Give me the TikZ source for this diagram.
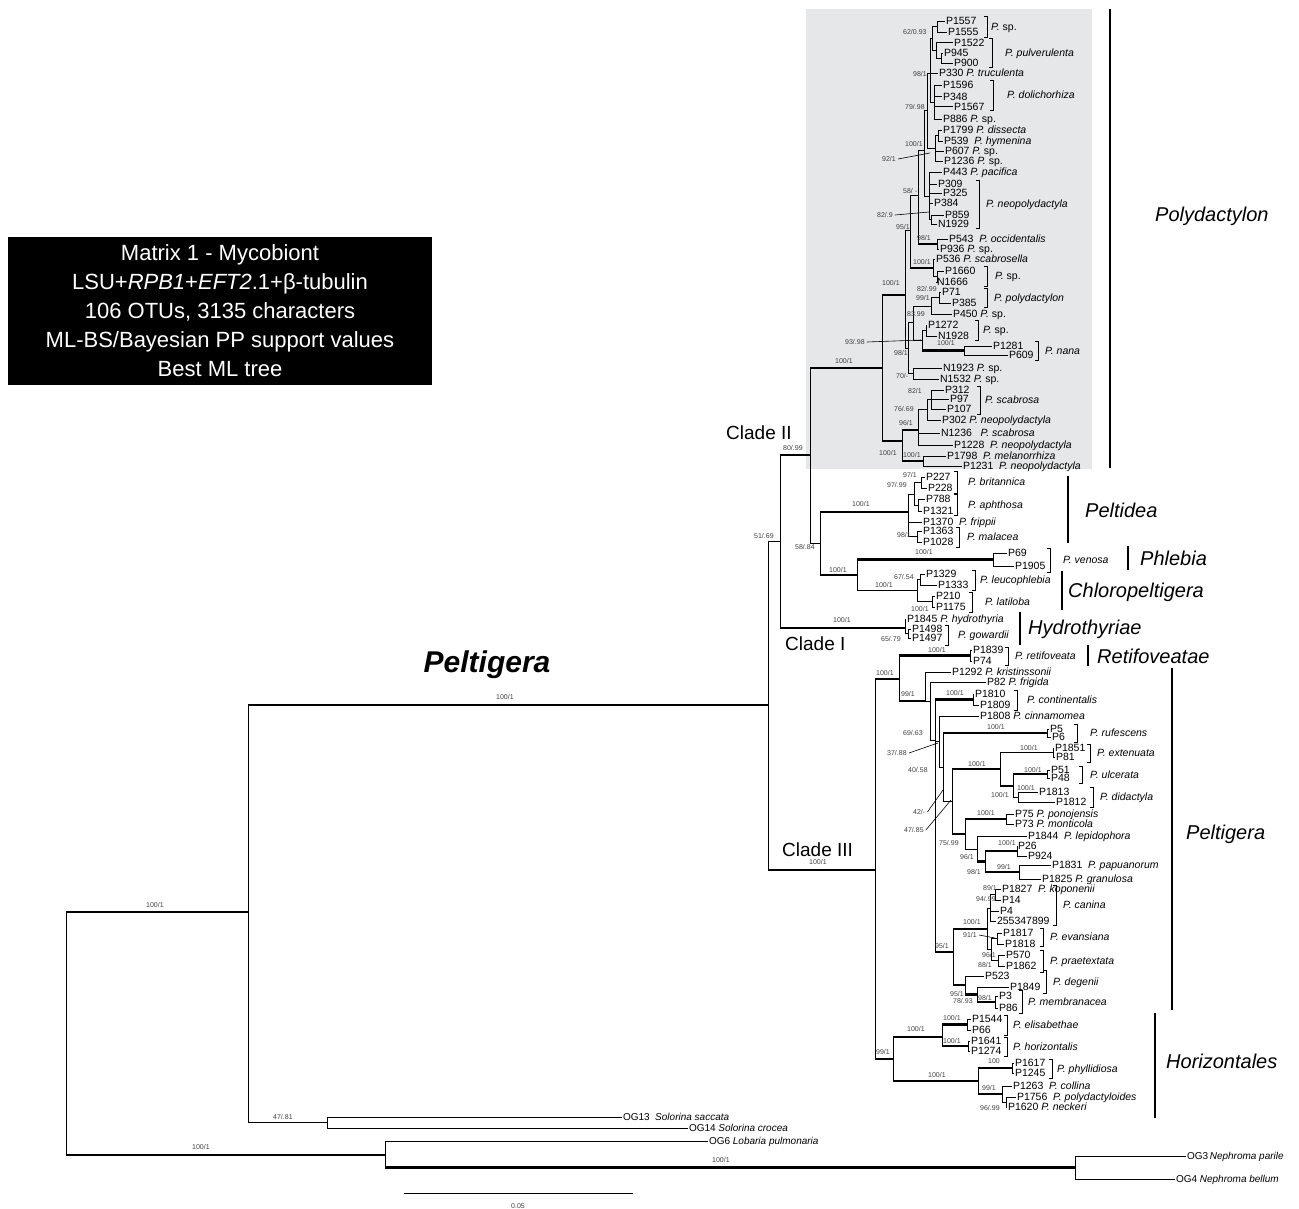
\documentclass[tikz,border=0pt]{standalone}
\usepackage{fontspec}
\setmainfont{Liberation Sans}
\usetikzlibrary{positioning}
\definecolor{polybg}{RGB}{230,231,232}
\newcommand{\taxon}[1]{\textit{#1}}
\tikzset{
  leaf/.style={anchor=west, inner sep=0.8pt, font=\fontsize{10.5}{11}\selectfont, text height=7.5pt, text depth=0pt},
  ogleaf/.style={leaf, font=\fontsize{10}{11}\selectfont, text height=7.2pt},
  supp/.style={anchor=west, inner sep=0pt, text=black!75, font=\fontsize{7}{8}\selectfont},
  branch/.style={line width=0.8pt},
  thickbranch/.style={line width=2.3pt},
  bracket/.style={line width=0.8pt},
  spname/.style={anchor=west, inner sep=0pt, font=\fontsize{10.5}{11}\selectfont\itshape, text height=7.5pt, text depth=0pt},
  cladebar/.style={line width=2.6pt},
  cladename/.style={anchor=west, inner sep=0pt, font=\fontsize{20}{22}\selectfont\itshape, text height=14.3pt, text depth=0pt},
  cladetag/.style={anchor=west, inner sep=0pt, font=\fontsize{19}{21}\selectfont},
  leader/.style={line width=0.6pt},
}

\begin{document}
\begin{tikzpicture}[x=1pt, y=-1pt]
    \useasboundingbox (0,0) rectangle (1299,1208);

    % Polydactylon background
    \fill[polybg] (806,9) rectangle (1092,469);

    % Matrix box
    \node[fill=black, text=white, align=center, minimum width=424pt, minimum height=148pt, inner sep=0pt,
          font=\fontsize{22}{29}\selectfont] (matrix) at (220,311)
          {Matrix 1 - Mycobiont\\ LSU+\textit{RPB1}+\textit{EFT2}.1+β-tubulin\\ 106 OTUs, 3135 characters\\
           ML-BS/Bayesian PP support values\\ Best ML tree};

    % Internal nodes
    \foreach \n/\x/\y in {nRoot/66/912, nA/248/912, nSol/327/1122.5, nB/385/1155, nNeph/1075/1167.5,
        nPel/768/705, nC21/780/541, nC2/810/455, nPoly/882/368,
        n100b/905/295, n58/910/230, n98b/918/195, nU2/924/150, nU/927/110, n98/930/73,
        ntop/932/38, n62/937/26.5, npulv/936/50, n945/941/58, ndol/934/102,
        n92/935/148, nhym/938/135.5, nneo/929/196, n859/931/219.5,
        nP543/937/244, n536/933/268, n1660/937/276.5,
        n98c/908/348, n83/913/322, n99/931/306, n71/939/297.5,
        n93/922/340, n1272/926/330.5, n1281/964/350.5, n70/913/373.5,
        n100c/902/441, nScab/918/430, nScb2/927/409, nScb1/931/399, n1798/923/461,
        n58b/820/543, nPtd/908/512, n97/914/494, n227/921/482.5, n788/918/505, n1363/917/536.5,
        nPC/857/575, nPhl/993/559.5, nChl/917/590, n1329/920/579.5, n210/932/601.5,
        nHyd/905/628, n1498/908/633.5,
        nC3/875/870, n100R/899/679, nRet/970/655.5, nK/925/701, n69/930/701, nZ/935/740,
        nP1810/973/699.5, nY/939/741.5, nX/943/767, nP5/1047/733, nW/952/801.5,
        nU2b/1000/769, nP1851/1053/752.5, nU1/1013/786, nP51/1047/774, nP1813/1018/797,
        nV3/965/834, nP75/1006/819, nV2/977/849, nV1/985/861.5, nP26/1017/851, nP1831/1019/872,
        nCM/953/952, nCE/987/929, nCan/990/908, nCan1/995/894.5, nEP/991/949.5, nEva/997/938.5, nPrae/998/960.5,
        nDeg/965/985, nMem/977/994.5, nP3/995/1002,
        nH/893/1059, nH1/942/1037, nE/967/1024.5, nHz/968/1046, nH2/978/1081, nPhy/1012/1068,
        nCol/1002/1094, nP1756/1006/1102}
        \coordinate (\n) at (\x,\y);

    % Tips
    \foreach \n/\x/\y/\t in {P1557/946/21/P1557, P1555/948/32/P1555, P1522/954/42.5/P1522,
        P945/944/53/P945, P900/954/63/P900, P330/939/73/{P330 \taxon{P. truculenta}},
        P1596/943/85/P1596, P348/943/96.5/P348, P1567/954/106.5/P1567,
        P886/943/119/{P886 \taxon{P.} sp.}, P1799/943/130/{P1799 \taxon{P. dissecta}},
        P539/944/141/{P539 \ \taxon{P. hymenina}}, P607/945/151/{P607 \taxon{P.} sp.},
        P1236/944/161/{P1236 \taxon{P.} sp.}, P443/943/172/{P443 \taxon{P. pacifica}},
        P309/938/184/P309, P325/943/193/P325, P384/934/203/P384, P859/945/215/P859, N1929/938/224/N1929,
        P543/949/239/{P543 \ \taxon{P. occidentalis}}, P936/940/249/{P936 \taxon{P.} sp.},
        P536/936/259/{P536 \taxon{P. scabrosella}}, P1660/945/271/P1660, N1666/937/282/N1666,
        P71/942/292/P71, P385/952/303/P385, P450/953/314/{P450 \taxon{P.} sp.},
        P1272/928/325/P1272, N1928/938/336/N1928, P1281/993/346/P1281, P609/1009/355/P609,
        N1923/943/368/{N1923 \taxon{P.} sp.}, N1532/940/379/{N1532 \taxon{P.} sp.},
        P312/945/390/P312, P97/950/399/P97, P107/947/409/P107,
        P302/942/420/{P302 \taxon{P. neopolydactyla}}, N1236/941/433/{N1236 \ \ \taxon{P. scabrosa}},
        P1228/954/445/{P1228 \ \taxon{P. neopolydactyla}}, P1798/947/456/{P1798 \ \taxon{P. melanorrhiza}},
        P1231/963/466/{P1231 \ \taxon{P. neopolydactyla}},
        P227/926/477/P227, P228/928/488/P228, P788/926/499/P788, P1321/923/511/P1321,
        P1370/923/522/{P1370 \ \taxon{P. frippii}}, P1363/923/531/P1363, P1028/923/542/P1028,
        P69/1008/553/P69, P1905/1015/566/P1905,
        P1329/926/574/P1329, P1333/938/585/P1333, P210/936/596/P210, P1175/936/607/P1175,
        P1845/907/619/{P1845 \taxon{P. hydrothyria}}, P1498/912/629/P1498, P1497/912/638/P1497,
        P1839/973/650/P1839, P74/973/661/P74,
        P1292/952/672/{P1292 \taxon{P. kristinssonii}}, P82/987/682/{P82 \taxon{P. frigida}},
        P1810/975/694/P1810, P1809/980/705/P1809, P1808/980/716/{P1808 \taxon{P. cinnamomea}},
        P5/1050/729/P5, P6/1052/737/P6, P1851/1055/748/P1851, P81/1056/757/P81,
        P51/1051/770/P51, P48/1051/778/P48, P1813/1039/792/P1813, P1812/1056/802/P1812,
        P75/1015/814/{P75 \taxon{P. ponojensis}}, P73/1015/824/{P73 \taxon{P. monticola}},
        P1844/1028/836/{P1844 \ \taxon{P. lepidophora}}, P26/1018/846/P26, P924/1028/856/P924,
        P1831/1052/865/{P1831 \ \taxon{P. papuanorum}}, P1825/1042/879/{P1825 \taxon{P. granulosa}},
        P1827/1002/889/{P1827 \ \taxon{P. koponenii}}, P14/1002/900/P14, P4/1000/911/P4,
        X255347899/997/921/255347899,
        P1817/1003/933/P1817, P1818/1005/944/P1818, P570/1006/955/P570, P1862/1006/966/P1862,
        P523/985/976/P523, P1849/1010/987/P1849, P3/999/996/P3, P86/999/1008/P86,
        P1544/972/1019/P1544, P66/972/1030/P66, P1641/971/1041/P1641, P1274/971/1051/P1274,
        P1617/1015/1063/P1617, P1245/1015/1073/P1245,
        P1263/1013/1086/{P1263 \ \taxon{P. collina}}, P1756/1017/1097/{P1756 \ \taxon{P. polydactyloides}},
        P1620/1008/1107/{P1620 \taxon{P. neckeri}}}
        \node[leaf] (\n) at (\x-1,\y) {\t};

    % Outgroups
    \foreach \n/\x/\y/\t in {OG13/623/1117/{OG13 \ \taxon{Solorina saccata}},
        OG14/689/1128/{OG14 \taxon{Solorina crocea}}, OG6/709/1141/{OG6 \taxon{Lobaria pulmonaria}},
        OG3/1187/1156/{OG3\,\taxon{Nephroma parile}}, OG4/1176/1179/{OG4 \taxon{Nephroma bellum}}}
        \node[ogleaf] (\n) at (\x-1,\y) {\t};

    % Branches
    \foreach \p/\c in {nRoot/nA, nRoot/nB, nA/nPel, nA/nSol, nSol/OG13, nSol/OG14,
        nB/OG6, nB/nNeph, nNeph/OG3, nNeph/OG4, nPel/nC21, nPel/nC3, nC21/nC2, nC21/nHyd,
        nC2/nPoly, nC2/n58b, nPoly/n100b, nPoly/n100c, n100b/n58, n100b/n98c,
        n58/n98b, n58/n536, n98b/nU2, n98b/nP543, nU2/nU, nU2/nneo, nU/n98, nU/n92,
        n98/ntop, n98/P330, n98/ndol, ntop/n62, ntop/npulv, n62/P1557, n62/P1555,
        npulv/P1522, npulv/n945, n945/P945, n945/P900,
        ndol/P1596, ndol/P348, ndol/P1567, ndol/P886,
        n92/nhym, n92/P607, n92/P1236, nhym/P1799, nhym/P539,
        nneo/P443, nneo/P309, nneo/P325, nneo/P384, nneo/n859, n859/P859, n859/N1929,
        nP543/P543, nP543/P936, n536/P536, n536/n1660, n1660/P1660, n1660/N1666,
        n98c/n83, n98c/n70, n83/n99, n83/n93, n99/n71, n99/P450, n71/P71, n71/P385,
        n93/n1272, n93/n1281, n1272/P1272, n1272/N1928, n1281/P1281, n1281/P609,
        n70/N1923, n70/N1532, n100c/nScab, n100c/n1798,
        nScab/nScb2, nScab/N1236, nScab/P1228, nScb2/nScb1, nScb2/P302,
        nScb1/P312, nScb1/P97, nScb1/P107, n1798/P1798, n1798/P1231,
        n58b/nPtd, n58b/nPC, nPtd/n97, nPtd/P1370, nPtd/n1363,
        n97/n227, n97/n788, n227/P227, n227/P228, n788/P788, n788/P1321, n1363/P1363, n1363/P1028,
        nPC/nPhl, nPC/nChl, nPhl/P69, nPhl/P1905,
        nChl/n1329, nChl/n210, n1329/P1329, n1329/P1333, n210/P210, n210/P1175,
        nHyd/P1845, nHyd/n1498, n1498/P1498, n1498/P1497,
        nC3/n100R, nC3/nH, n100R/nRet, n100R/nK, nRet/P1839, nRet/P74,
        nK/P1292, nK/n69, n69/P82, n69/nZ, nZ/nP1810, nZ/nY, nZ/nCM,
        nP1810/P1810, nP1810/P1809, nY/P1808, nY/nX, nX/nP5, nX/nW, nP5/P5, nP5/P6,
        nW/nU2b, nW/nV3, nU2b/nP1851, nU2b/nU1, nP1851/P1851, nP1851/P81,
        nU1/nP51, nU1/nP1813, nP51/P51, nP51/P48, nP1813/P1813, nP1813/P1812,
        nV3/nP75, nV3/nV2, nP75/P75, nP75/P73, nV2/P1844, nV2/nV1,
        nV1/nP26, nV1/nP1831, nP26/P26, nP26/P924, nP1831/P1831, nP1831/P1825,
        nCM/nCE, nCM/nDeg, nCE/nCan, nCE/nEP,
        nCan/nCan1, nCan/P4, nCan/X255347899, nCan1/P1827, nCan1/P14,
        nEP/nEva, nEP/nPrae, nEva/P1817, nEva/P1818, nPrae/P570, nPrae/P1862,
        nDeg/P523, nDeg/nMem, nMem/P1849, nMem/nP3, nP3/P3, nP3/P86,
        nH/nH1, nH/nH2, nH1/nE, nH1/nHz, nE/P1544, nE/P66, nHz/P1641, nHz/P1274,
        nH2/nPhy, nH2/nCol, nPhy/P1617, nPhy/P1245,
        nCol/P1263, nCol/nP1756, nP1756/P1756, nP1756/P1620}
        \draw[branch] (\p) |- (\c);

    % Well supported branches
    \foreach \p/\c in {nRoot/nA, nRoot/nB, nA/nPel, nB/nNeph, nPel/nC3, nC21/nC2, nC21/nHyd,
        nC2/nPoly, nPoly/n100b, nPoly/n100c, n100c/n1798, n100c/nScab, n58/n536, n98b/nP543,
        n93/n1281, n58b/nPtd, n58b/nPC, nPC/nPhl, nC3/n100R, nC3/nH, n100R/nRet, n100R/nK,
        nZ/nP1810, nX/nP5, nW/nU2b, nU2b/nU1, nU1/nP51, nW/nV3, nV3/nP75, nV2/nV1,
        nV1/nP26, nV1/nP1831, nZ/nCM, nCM/nCE, nCM/nDeg, nDeg/nMem, nMem/nP3,
        nH/nH1, nH/nH2, nH1/nE, nH1/nHz, nH2/nPhy, nH2/nCol}
        \draw[thickbranch] (\p |- \c) -- (\c);

    % Species brackets
    \foreach \x/\ya/\yb/\lx/\t [count=\i] in {987/16/37/991/{P.\ \upshape sp.}, 992/38/67/1005/P. pulverulenta,
        993/80/110/1007/P. dolichorhiza, 979/180/228/986/P. neopolydactyla,
        987/266/286/995/{P.\ \upshape sp.}, 987/288/307/994/P. polydactylon,
        978/320/340/983/{P.\ \upshape sp.}, 1038/341/360/1045/P. nana, 980/386/414/985/P. scabrosa,
        957/471/493/968/P. britannica, 957/494/515/968/P. aphthosa, 959/527/547/967/P. malacea,
        1050/548/572/1063/P. venosa, 975/570/590/980/P. leucophlebia, 972/592/612/985/P. latiloba,
        948/625/645/958/P. gowardii, 1008/647/665/1015/P. retifoveata,
        1017/690/710/1027/P. continentalis, 1077/724/742/1090/P. rufescens,
        1090/744/762/1097/P. extenuata, 1082/766/783/1090/P. ulcerata, 1093/787/807/1100/P. didactyla,
        1056/885/925/1063/P. canina, 1043/928/946/1050/P. evansiana, 1043/950/972/1050/P. praetextata,
        1046/970/993/1053/P. degenii, 1022/990/1013/1028/P. membranacea,
        1007/1015/1035/1013/P. elisabethae, 1007/1037/1056/1013/P. horizontalis,
        1052/1059/1078/1057/P. phyllidiosa}
    {
        \draw[bracket] (\x-3,\ya) -- (\x,\ya) -- (\x,\yb) -- (\x-3,\yb);
        \node[spname] (sp\i) at (\lx,{(\ya+\yb)/2}) {\t};
    }

    % Support values
    \foreach \x/\y/\t [count=\i] in {903/32/{62/0.93}, 913/74/{98/1}, 905/107/{79/.98}, 905/144/{100/1},
        903/191/{58/ -}, 896/227/{95/1}, 917/238/{98/1}, 913/262/{100/1}, 882/283/{100/1},
        917/289/{82/.99}, 916/298/{99/1}, 907/314/{83.99}, 937/343/{100/1}, 894/353/{98/1},
        896/376/{70/-}, 835/361/{100/1}, 908/391/{82/1}, 894/409/{76/.69}, 899/423/{96/1},
        879/453/{100/1}, 903/455/{100/1},
        783/448/{80/.99}, 754/536/{51/.69}, 795/547/{58/.84}, 852/504/{100/1}, 829/570/{100/1},
        903/475/{97/1}, 887/485/{97/.99}, 897/535/{98/1}, 915/552/{100/1}, 894/577/{67/.54},
        875/585/{100/1}, 911/609/{100/1}, 833/620/{100/1}, 881/639/{65/.79},
        928/650/{100/1}, 876/673/{100/1}, 901/694/{99/1}, 946/693/{100/1}, 903/733/{69/.63},
        987/727/{100/1}, 1020/748/{100/1}, 908/770/{40/.58}, 968/764/{100/1}, 1024/770/{100/1},
        991/795/{100/1}, 1017/788/{100/1}, 977/813/{100/1}, 939/843/{75/.99}, 998/843/{100/1},
        960/857/{96/1}, 967/872/{98/1}, 997/867/{99/1}, 983/888/{89/1}, 976/899/{94/.99},
        963/922/{100/1}, 935/946/{95/1}, 982/955/{96/1}, 978/965/{88/1}, 950/994/{95/1},
        953/1001/{78/.93}, 978/998/{98/1}, 943/1018/{100/1}, 907/1029/{100/1}, 943/1041/{100/1},
        876/1052/{99/1}, 988/1061/{100}, 928/1075/{100/1}, 982/1088/{99/1}, 980/1108/{96/.99},
        809/862/{100/1}, 496/697/{100/1}, 146/905/{100/1}, 273/1117/{47/.81}, 192/1147/{100/1},
        712/1160/{100/1}}
        \node[supp] (s\i) at (\x,\y) {\t};

    % Support values with leaders
    \node[supp] (s92) at (882,159) {92/1};
    \node[supp] (s82) at (877,215) {82/.9};
    \node[supp] (s93) at (845,342) {93/.98};
    \node[supp] (s37) at (887,753) {37/.88};
    \node[supp] (s42) at (913,812) {42/-};
    \node[supp] (s47) at (904,830) {47/.85};
    \node[supp] (s91) at (963,935) {91/1};
    \coordinate (l92) at (930,153);
    \coordinate (l82) at (929,212);
    \coordinate (l93) at (921,340);
    \coordinate (l37) at (938,743);
    \coordinate (l42) at (943,790);
    \coordinate (l47) at (951,800);
    \coordinate (l91) at (995,938);
    \foreach \s in {92, 82, 93, 37, 42, 47, 91}
        \draw[leader] ([xshift=2pt]s\s.east) -- (l\s);

    % Clade bars and names
    \foreach \x/\ya/\yb/\lx/\ly/\t in {1110/9/468/1155/214/Polydactylon, 1068/476/543/1085/510/Peltidea,
        1128/546/570/1140/558/Phlebia, 1062/571/610/1068/590/Chloropeltigera,
        1020/612/645/1028/627/Hydrothyriae, 1088/645/666/1097/656/Retifoveatae,
        1172/668/1010/1186/832/Peltigera, 1155/1013/1118/1166/1061/Horizontales}
    {
        \draw[cladebar] (\x,\ya) -- (\x,\yb);
        \node[cladename] (cl\t) at (\lx,\ly) {\t};
    }

    % Clade tags
    \node[cladetag] (clade2) at (726,433) {Clade II};
    \node[cladetag] (clade1) at (785,644) {Clade I};
    \node[cladetag] (clade3) at (782,850) {Clade III};
    \node[font=\fontsize{30}{32}\selectfont\bfseries\itshape, inner sep=0pt] (genus) at (487,665) {Peltigera};

    % Scale bar
    \coordinate (sb1) at (404,1193);
    \coordinate (sb2) at (633,1193);
    \draw[branch] (sb1) -- (sb2);
    \node[supp, anchor=center] (sblabel) at (518,1206) {0.05};
\end{tikzpicture}
\end{document}
